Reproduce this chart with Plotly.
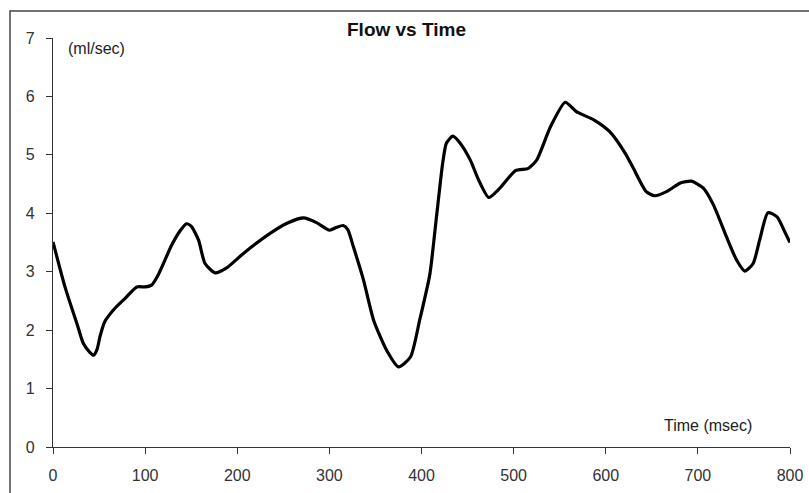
import plotly.graph_objects as go

time_ms = [0, 13, 27, 33, 40, 44, 48, 51, 56, 67,
           78, 91, 100, 107, 114, 129, 138, 145, 150, 158,
           165, 176, 188, 208, 236, 254, 272, 286, 300, 308,
           315, 320, 326, 337, 348, 362, 375, 388, 398, 409,
           416, 423, 427, 434, 442, 453, 462, 473, 485, 502,
           516, 525, 540, 556, 568, 587, 604, 621, 630, 644,
           653, 666, 681, 693, 706, 717, 731, 742, 751, 760,
           767, 776, 786, 795, 800]
flow = [3.51, 2.74, 2.06, 1.77, 1.62, 1.57, 1.68, 1.89, 2.14, 2.37,
        2.54, 2.74, 2.74, 2.77, 2.94, 3.46, 3.70, 3.82, 3.78, 3.54,
        3.14, 2.98, 3.06, 3.33, 3.66, 3.83, 3.92, 3.84, 3.71, 3.76,
        3.79, 3.72, 3.43, 2.86, 2.17, 1.66, 1.37, 1.54, 2.17, 2.95,
        3.90, 4.86, 5.20, 5.32, 5.20, 4.91, 4.57, 4.27, 4.43, 4.73,
        4.77, 4.91, 5.48, 5.90, 5.74, 5.60, 5.40, 5.03, 4.77, 4.37,
        4.30, 4.37, 4.52, 4.55, 4.43, 4.14, 3.60, 3.20, 3.01, 3.14,
        3.54, 4.01, 3.94, 3.66, 3.50]

x_ticks = [0, 100, 200, 300, 400, 500, 600, 700, 800]
y_ticks = [0, 1, 2, 3, 4, 5, 6, 7]

FONT = "Liberation Sans, Arial, sans-serif"

fig = go.Figure()
fig.add_trace(go.Scatter(
    x=time_ms, y=flow, mode="lines",
    line=dict(color="black", width=3.2, shape="spline", smoothing=0.6),
    showlegend=False, hoverinfo="skip", cliponaxis=False,
))

axis_common = dict(
    showline=True, linecolor="#333333", linewidth=1.3,
    ticks="outside", ticklen=6, tickcolor="#333333", tickwidth=1.3,
    showgrid=False, zeroline=False, automargin=False,
    tickfont=dict(family=FONT, size=16, color="#333333"),
)

fig.update_layout(
    width=809, height=493,
    margin=dict(l=53, r=19, t=38, b=46, autoexpand=False),
    paper_bgcolor="white", plot_bgcolor="white",
    xaxis=dict(range=[0, 800], tickvals=x_ticks, ticklabelstandoff=8, **axis_common),
    yaxis=dict(range=[0, 7], tickvals=y_ticks, ticklabelstandoff=8, **axis_common),
    annotations=[
        dict(text="<b>Flow vs Time</b>", xref="paper", yref="paper",
             x=(406 - 53) / 737, y=(447 - 30) / 409, xanchor="center", yanchor="middle",
             showarrow=False, font=dict(family=FONT, size=19, color="#111111")),
        dict(text="(ml/sec)", xref="paper", yref="paper",
             x=(66 - 53) / 737, y=(447 - 49) / 409, xanchor="left", yanchor="middle",
             showarrow=False, font=dict(family=FONT, size=16, color="#222222")),
        dict(text="Time (msec)", xref="paper", yref="paper",
             x=(754 - 53) / 737, y=(447 - 425) / 409, xanchor="right", yanchor="middle",
             showarrow=False, font=dict(family=FONT, size=16, color="#222222")),
    ],
    shapes=[
        dict(type="rect", xref="paper", yref="paper", layer="above",
             x0=(10 - 53) / 737, x1=(830 - 53) / 737,
             y0=(447 - 520) / 409, y1=(447 - 11) / 409,
             line=dict(color="#444444", width=1.5), fillcolor="rgba(0,0,0,0)"),
    ],
)

fig.write_html("out.html", config={"displayModeBar": False},
               post_script="document.body.style.margin='0';document.body.style.overflow='hidden';")
